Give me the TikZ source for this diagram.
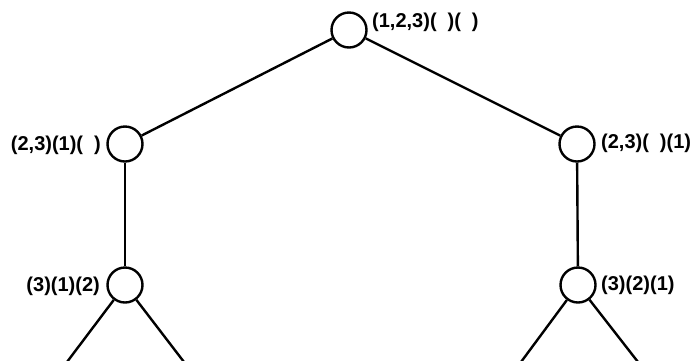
\documentclass[tikz,border=0pt]{standalone}
\usepackage{fontspec}
\setmainfont{Liberation Sans}
\usepackage{tikz}

\newcommand{\buit}{\hspace{0.55em}}

\tikzset{
  estat/.style={draw, circle, line width=2.4pt, minimum size=35pt, inner sep=0pt, fill=white},
  branca/.style={line width=2.4pt},
  etiq/.style={font=\bfseries\fontsize{20}{22}\selectfont, inner sep=0pt}
}

\begin{document}
\begin{tikzpicture}[x=1pt, y=-1pt]
    % marc de la figura
    \useasboundingbox (0,0) rectangle (695,360);

    % Nodes de l'arbre
    \node[estat] (arrel) at (349, 30) {};
    \node[estat] (esq) at (125, 144) {};
    \node[estat] (dre) at (577, 144) {};
    \node[estat] (esqb) at (125, 285) {};
    \node[estat] (dreb) at (578, 285) {};

    % Extrems de les branques que surten de la figura
    \coordinate (e1) at (67, 362);
    \coordinate (e2) at (184, 362);
    \coordinate (d1) at (521, 362);
    \coordinate (d2) at (638, 362);

    % Etiquetes
    \node[etiq, anchor=west] (larrel) at (372, 22) {(1,2,3)(\buit)(\buit)};
    \node[etiq, anchor=east] (lesq) at (101, 145) {(2,3)(1)(\buit)};
    \node[etiq, anchor=west] (ldre) at (601, 143) {(2,3)(\buit)(1)};
    \node[etiq, anchor=east] (lesqb) at (100, 286) {(3)(1)(2)};
    \node[etiq, anchor=west] (ldreb) at (601, 285) {(3)(2)(1)};

    % Branques
    \draw[branca] (arrel) -- (esq);
    \draw[branca] (arrel) -- (dre);
    \draw[branca] (esq) -- (esqb);
    \draw[branca] (dre) -- (dreb);
    \draw[branca] (esqb) -- (e1);
    \draw[branca] (esqb) -- (e2);
    \draw[branca] (dreb) -- (d1);
    \draw[branca] (dreb) -- (d2);
\end{tikzpicture}
\end{document}
